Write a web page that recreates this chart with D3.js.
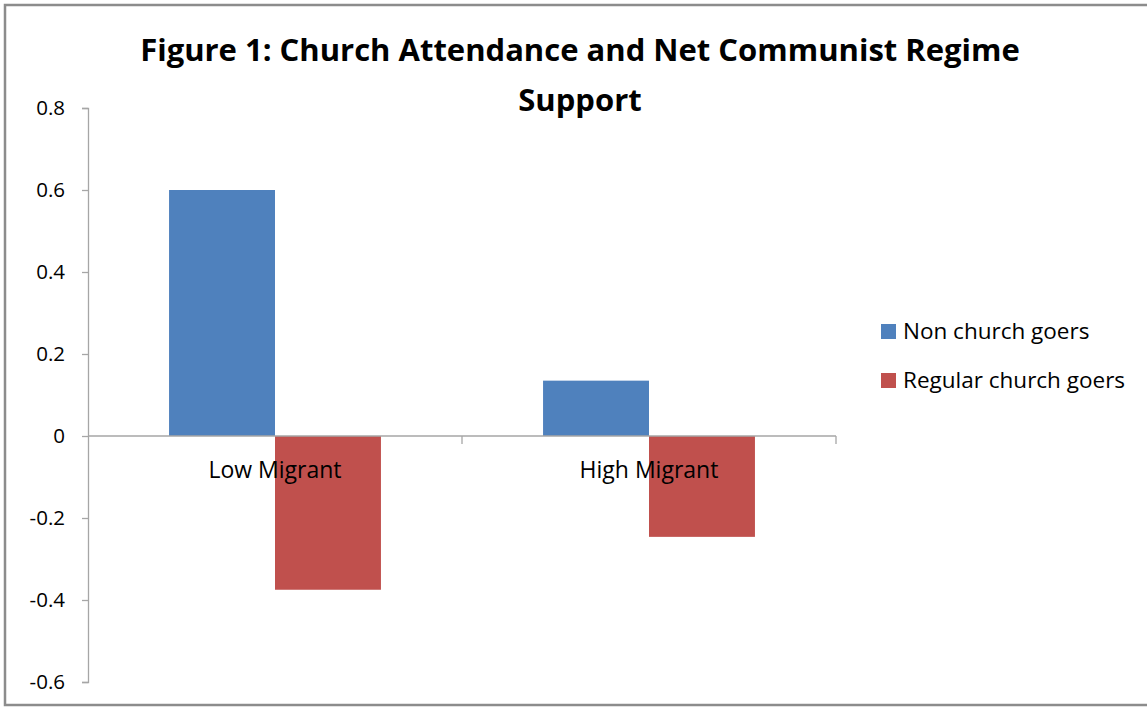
<!DOCTYPE html>
<html>
<head>
<meta charset="utf-8">
<script src="https://cdn.jsdelivr.net/npm/d3@7"></script>
<style>
  body { margin: 0; background: #fff; }
  svg { display: block; }
  text { font-family: "Open Sans", Lato, sans-serif; fill: #000; }
</style>
</head>
<body>
<svg id="chart" width="1147" height="707"></svg>
<script>
const categories = ["Low Migrant", "High Migrant"];
const seriesNames = ["Non church goers", "Regular church goers"];
const nonChurch = [0.6, 0.135];
const regularChurch = [-0.375, -0.246];
const yTicks = [-0.6, -0.4, -0.2, 0, 0.2, 0.4, 0.6, 0.8];
const colors = ["#4f81bd", "#c0504d"];

const width = 1147, height = 707;
const margin = { left: 88, top: 108, right: 311, bottom: 25 };
const innerWidth = width - margin.left - margin.right;
const innerHeight = height - margin.top - margin.bottom;

const svg = d3.select("#chart");

// outer frame
svg.append("rect")
   .attr("x", 5).attr("y", 5)
   .attr("width", 1150).attr("height", 700)
   .attr("fill", "#fff")
   .attr("stroke", "#8c8c8c")
   .attr("stroke-width", 2.5);

const g = svg.append("g")
             .attr("transform", `translate(${margin.left}, ${margin.top})`);

const xScale = d3.scaleBand()
                 .domain(categories)
                 .range([0, innerWidth]);

const xInner = d3.scaleBand()
                 .domain(seriesNames)
                 .range([0, xScale.bandwidth()])
                 .paddingOuter(0.765)
                 .paddingInner(0);

const yScale = d3.scaleLinear()
                 .domain([-0.6, 0.8])
                 .range([innerHeight, 0]);

// y axis
const yAxis = d3.axisLeft(yScale)
                .tickValues(yTicks)
                .tickSize(6)
                .tickPadding(17)
                .tickFormat(d => d === 0 ? "0" : d.toFixed(1));

const yG = g.append("g").call(yAxis);
yG.select(".domain").attr("stroke", "#a6a6a6").attr("stroke-width", 1.3);
yG.selectAll(".tick line").attr("stroke", "#a6a6a6").attr("stroke-width", 1.3);
yG.selectAll(".tick text")
  .attr("font-size", 20.5)
  .style("font-family", "'Open Sans', Lato, sans-serif")
  .attr("fill", "#222");

// bars
const rows = categories.map((c, i) => ({ cat: c, values: [nonChurch[i], regularChurch[i]] }));

const groups = g.selectAll(".cat")
                .data(rows)
                .join("g")
                .attr("class", "cat")
                .attr("transform", d => `translate(${xScale(d.cat)}, 0)`);

groups.selectAll("rect")
      .data(d => d.values.map((v, j) => ({ series: seriesNames[j], value: v, j })))
      .join("rect")
      .attr("x", d => xInner(d.series))
      .attr("width", xInner.bandwidth())
      .attr("y", d => yScale(Math.max(0, d.value)))
      .attr("height", d => Math.abs(yScale(d.value) - yScale(0)))
      .attr("fill", d => colors[d.j]);

// x axis at zero
const zeroY = yScale(0);
g.append("line")
 .attr("x1", 0).attr("x2", innerWidth)
 .attr("y1", zeroY).attr("y2", zeroY)
 .attr("stroke", "#a6a6a6").attr("stroke-width", 1.3);

const boundaries = categories.map(c => xScale(c) + xScale.bandwidth());
g.selectAll(".xtick")
 .data(boundaries)
 .join("line")
 .attr("x1", d => d).attr("x2", d => d)
 .attr("y1", zeroY).attr("y2", zeroY + 8)
 .attr("stroke", "#a6a6a6").attr("stroke-width", 1.3);

g.selectAll(".xlabel")
 .data(categories)
 .join("text")
 .attr("x", d => xScale(d) + xScale.bandwidth() / 2)
 .attr("y", zeroY + 42)
 .attr("text-anchor", "middle")
 .attr("font-size", 23)
 .attr("fill", "#222")
 .text(d => d);

// title
const title = svg.append("text")
   .attr("text-anchor", "middle")
   .attr("font-weight", "bold")
   .attr("font-size", 28);
const t1 = title.append("tspan").attr("x", 580).attr("y", 61)
     .text("Figure 1: Church Attendance and Net Communist Regime");
title.append("tspan").attr("x", 580).attr("y", 111).text("Support");
// fit title width to the frame of the original (~880px)
const w1 = t1.node().getComputedTextLength();
title.attr("font-size", 28 * 880 / w1);

// legend
const legend = svg.append("g").attr("transform", "translate(881, 331)");
const items = legend.selectAll("g")
                    .data(seriesNames)
                    .join("g")
                    .attr("transform", (d, i) => `translate(0, ${i * 49})`);
items.append("rect")
     .attr("x", 0).attr("y", -7)
     .attr("width", 15).attr("height", 15)
     .attr("fill", (d, i) => colors[i]);
items.append("text")
     .attr("x", 22).attr("y", 8)
     .attr("font-size", 22.5)
     .attr("fill", "#222")
     .text(d => d);
</script>
</body>
</html>
